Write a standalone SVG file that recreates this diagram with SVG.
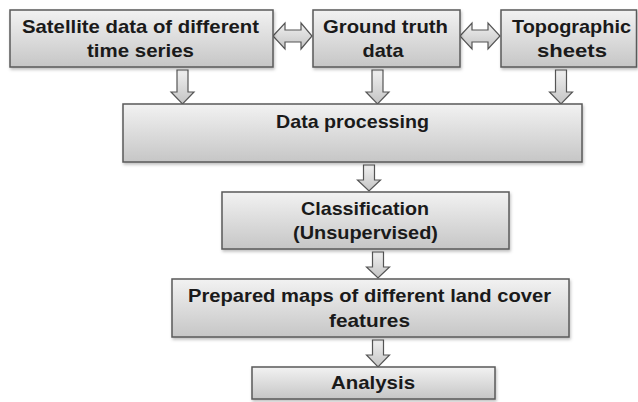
<svg xmlns="http://www.w3.org/2000/svg" width="638" height="402" viewBox="0 0 638 402">
<defs>
<linearGradient id="boxg" x1="0" y1="0" x2="0" y2="1">
<stop offset="0" stop-color="#f2f2f2"/>
<stop offset="1" stop-color="#c6c6c6"/>
</linearGradient>
<linearGradient id="arrg" x1="0" y1="0" x2="0" y2="1">
<stop offset="0" stop-color="#f0f0f0"/>
<stop offset="1" stop-color="#c4c4c4"/>
</linearGradient>
<filter id="sh" x="-10%" y="-20%" width="120%" height="150%">
<feDropShadow dx="1" dy="2" stdDeviation="1.5" flood-color="#000" flood-opacity="0.25"/>
</filter>
</defs>
<style>
.box{fill:url(#boxg);stroke:#5a5a5a;stroke-width:1.5;filter:url(#sh)}
.arr{fill:url(#arrg);stroke:#555;stroke-width:1.2;stroke-linejoin:miter}
.t{font-family:"Liberation Sans",Arial,sans-serif;font-weight:bold;font-size:19px;fill:#1a1a1a;text-anchor:middle}
</style>
<rect width="638" height="402" fill="#ffffff"/>

<g id="connectors">
<path class="arr" d="M273,36 L285,23 L285,30 L301,30 L301,23 L312,36 L301,49 L301,42 L285,42 L285,49 Z"/>
<path class="arr" d="M460,36 L472,23 L472,30 L488,30 L488,23 L500,36 L488,49 L488,42 L472,42 L472,49 Z"/>
<path class="arr" d="M177,70 L188,70 L188,92 L194,92 L182.5,104 L171,92 L177,92 Z"/>
<path class="arr" d="M372,70 L383,70 L383,92 L389,92 L377.5,104 L366,92 L372,92 Z"/>
<path class="arr" d="M555.5,70 L566.5,70 L566.5,92 L572.5,92 L561,104 L549.5,92 L555.5,92 Z"/>
<path class="arr" d="M363.5,165 L374.5,165 L374.5,180 L380.5,180 L369,191 L357.5,180 L363.5,180 Z"/>
<path class="arr" d="M372.5,252 L383.5,252 L383.5,267 L389.5,267 L378,278 L366.5,267 L372.5,267 Z"/>
<path class="arr" d="M372.5,340 L383.5,340 L383.5,355 L389.5,355 L378,367 L366.5,355 L372.5,355 Z"/>
</g>

<g id="satellite">
<rect class="box" x="10" y="10" width="263" height="57"/>
<text class="t" x="140.5" y="33" textLength="237" lengthAdjust="spacingAndGlyphs">Satellite data of different</text>
<text class="t" x="140.5" y="57" textLength="107" lengthAdjust="spacingAndGlyphs">time series</text>
</g>
<g id="ground">
<rect class="box" x="313" y="10" width="147" height="57"/>
<text class="t" x="385.5" y="33" textLength="125" lengthAdjust="spacingAndGlyphs">Ground truth</text>
<text class="t" x="383" y="57" textLength="41" lengthAdjust="spacingAndGlyphs">data</text>
</g>
<g id="topographic">
<rect class="box" x="501" y="10" width="135.5" height="57"/>
<text class="t" x="571.5" y="33" textLength="119" lengthAdjust="spacingAndGlyphs">Topographic</text>
<text class="t" x="572" y="57" textLength="70" lengthAdjust="spacingAndGlyphs">sheets</text>
</g>
<g id="processing">
<rect class="box" x="123" y="104" width="459" height="58"/>
<text class="t" x="352.5" y="128" textLength="153" lengthAdjust="spacingAndGlyphs">Data processing</text>
</g>
<g id="classification">
<rect class="box" x="222" y="192" width="287" height="57"/>
<text class="t" x="365" y="215" textLength="128" lengthAdjust="spacingAndGlyphs">Classification</text>
<text class="t" x="365.5" y="239" textLength="145" lengthAdjust="spacingAndGlyphs">(Unsupervised)</text>
</g>
<g id="prepared">
<rect class="box" x="172" y="279" width="397" height="58"/>
<text class="t" x="369.5" y="302" textLength="363" lengthAdjust="spacingAndGlyphs">Prepared maps of different land cover</text>
<text class="t" x="369.5" y="327" textLength="81" lengthAdjust="spacingAndGlyphs">features</text>
</g>
<g id="analysis">
<rect class="box" x="252" y="367" width="243" height="32"/>
<text class="t" x="373" y="389" textLength="84" lengthAdjust="spacingAndGlyphs">Analysis</text>
</g>
</svg>
